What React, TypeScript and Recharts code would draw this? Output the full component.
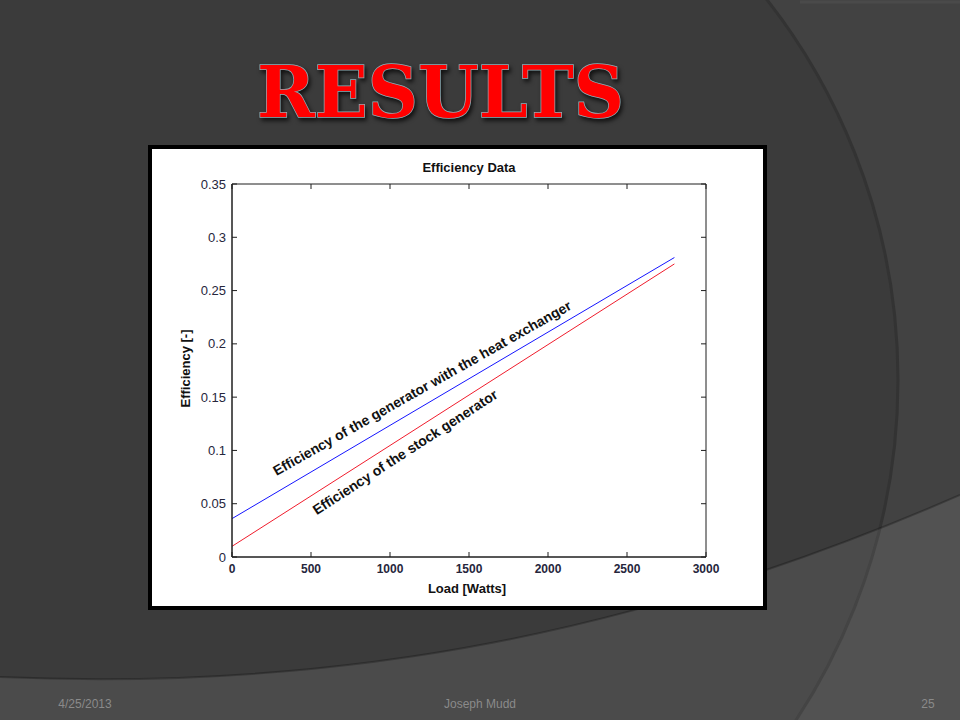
import React from 'react';
import { ComposedChart, Line, Scatter, XAxis, YAxis, Label } from 'recharts';

// values
const loadWatts = [0, 2800];
const effWithExchanger = [0.036, 0.281];
const effStock = [0.01, 0.275];

const xTicks = [0, 500, 1000, 1500, 2000, 2500, 3000];
const yTicks = [0, 0.05, 0.1, 0.15, 0.2, 0.25, 0.3, 0.35];

const noteText = ['Efficiency of the generator with the heat exchanger', 'Efficiency of the stock generator'];
const noteLoad = [1203, 1095];
const noteEff = [0.1586, 0.0985];

const exchangerData = loadWatts.map((load, i) => ({ load, eff: effWithExchanger[i] }));
const stockData = loadWatts.map((load, i) => ({ load, eff: effStock[i] }));
const noteData = noteText.map((text, i) => ({ load: noteLoad[i], eff: noteEff[i], text, idx: i }));

// styles
const NOTE_ANGLES = [-29.5, -33];
const FONT = "'Liberation Sans', Arial, sans-serif";
const AXIS_COLOR = '#1e1e1e';
const TICK_COLOR = '#26263c';

const NoteShape = (props: any) => {
  const { cx, cy, payload } = props;
  if (cx == null || cy == null) return null;
  const angle = NOTE_ANGLES[payload.idx];
  return (
    <text
      x={cx}
      y={cy}
      textAnchor="middle"
      dominantBaseline="central"
      transform={`rotate(${angle} ${cx} ${cy})`}
      fontFamily={FONT}
      fontWeight="bold"
      fontSize={14}
      fill="#111"
    >
      {payload.text}
    </text>
  );
};

// tick marks only, no tick text
const NoTickText = () => <g />;

const XTitle = ({ viewBox }: any) => (
  <text x={viewBox.x + viewBox.width / 2 - 2} y={viewBox.y + 36} textAnchor="middle" fontFamily={FONT} fontWeight="bold" fontSize={13} fill="#111">
    Load [Watts]
  </text>
);

const YTitle = ({ viewBox }: any) => {
  const x = viewBox.x - 2;
  const y = viewBox.y + viewBox.height / 2 - 2;
  return (
    <text x={x} y={y} textAnchor="middle" transform={`rotate(-90 ${x} ${y})`} fontFamily={FONT} fontWeight="bold" fontSize={13} fill="#111">
      Efficiency [-]
    </text>
  );
};

const SlideBackground = () => (
  <svg width={960} height={720} style={{ position: 'absolute', left: 0, top: 0 }}>
    <rect x={0} y={0} width={960} height={720} fill="#424242" />
    <circle cx={281} cy={380} r={617} fill="#3b3b3b" />
    <circle cx={281} cy={380} r={617} fill="none" stroke="#333" strokeWidth={3} />
    <line x1={800} y1={2} x2={960} y2={2} stroke="#4a4a4a" strokeWidth={3} />
    <path d="M0,677 C350,692 650,630 960,495 L960,720 L0,720 Z" fill="rgba(255,255,255,0.085)" />
    <path d="M0,677 C350,692 650,630 960,495" fill="none" stroke="rgba(0,0,0,0.25)" strokeWidth={2} />
  </svg>
);

export default function App() {
  return (
    <div style={{ position: 'absolute', left: 0, top: 0, width: 960, height: 720, overflow: 'hidden', fontFamily: FONT }}>
      <style>{'body{margin:0}'}</style>
      <SlideBackground />

      <svg width={960} height={140} style={{ position: 'absolute', left: 0, top: 0 }}>
        <text
          x={257}
          y={117}
          textLength={367}
          lengthAdjust="spacingAndGlyphs"
          fontFamily="'DejaVu Serif', serif"
          fontWeight="bold"
          fontSize={71}
          fill="#ff0000"
          stroke="#8fb0b8"
          strokeWidth={1.5}
          paintOrder="stroke"
          style={{ filter: 'drop-shadow(2px 3px 2px rgba(0,0,0,0.7))' }}
        >
          RESULTS
        </text>
      </svg>

      <div
        style={{
          position: 'absolute',
          left: 148,
          top: 145,
          width: 619,
          height: 465,
          boxSizing: 'border-box',
          border: '4px solid #000',
          background: '#fff',
        }}
      >
        <div style={{ position: 'absolute', left: 0, top: 11, width: 634, textAlign: 'center', fontSize: 13, fontWeight: 'bold', color: '#111' }}>
          Efficiency Data
        </div>
        <ComposedChart width={611} height={457} margin={{ top: 35, right: 57, bottom: 19, left: 40 }}>
          {/* labelled axes */}
          <XAxis
            xAxisId="bottom"
            dataKey="load"
            type="number"
            domain={[0, 3000]}
            ticks={xTicks}
            allowDataOverflow
            height={30}
            stroke={AXIS_COLOR}
            tickLine={false}
            tickSize={-5}
            tickMargin={12}
            tick={{ fill: TICK_COLOR, fontSize: 12, fontWeight: 'bold', fontFamily: FONT }}
          >
            <Label content={<XTitle />} />
          </XAxis>
          <YAxis
            yAxisId="left"
            type="number"
            domain={[0, 0.35]}
            ticks={yTicks}
            allowDataOverflow
            width={40}
            stroke={AXIS_COLOR}
            tickLine={false}
            tickSize={-5}
            tickMargin={11}
            tick={{ fill: TICK_COLOR, fontSize: 13, fontFamily: FONT }}
          >
            <Label content={<YTitle />} />
          </YAxis>

          {/* box frame with inward ticks */}
          <XAxis xAxisId="bottomIn" orientation="bottom" mirror dataKey="load" type="number" domain={[0, 3000]} ticks={xTicks} allowDataOverflow height={1} stroke={AXIS_COLOR} tickSize={5} tick={NoTickText} />
          <XAxis xAxisId="top" orientation="top" mirror dataKey="load" type="number" domain={[0, 3000]} ticks={xTicks} allowDataOverflow height={1} stroke={AXIS_COLOR} tickSize={5} tick={NoTickText} />
          <YAxis yAxisId="leftIn" orientation="left" mirror type="number" domain={[0, 0.35]} ticks={yTicks} allowDataOverflow width={1} stroke={AXIS_COLOR} tickSize={5} tick={NoTickText} />
          <YAxis yAxisId="right" orientation="right" mirror type="number" domain={[0, 0.35]} ticks={yTicks} allowDataOverflow width={1} stroke={AXIS_COLOR} tickSize={5} tick={NoTickText} />

          <Line
            xAxisId="bottom"
            yAxisId="left"
            data={exchangerData}
            dataKey="eff"
            stroke="#1515ff"
            strokeWidth={1}
            dot={false}
            isAnimationActive={false}
          />
          <Line
            xAxisId="top"
            yAxisId="right"
            data={stockData}
            dataKey="eff"
            stroke="#f01c2c"
            strokeWidth={1}
            dot={false}
            isAnimationActive={false}
          />
          <Scatter
            xAxisId="bottomIn"
            yAxisId="leftIn"
            data={noteData}
            dataKey="eff"
            shape={<NoteShape />}
            isAnimationActive={false}
          />
        </ComposedChart>
      </div>

      <div style={{ position: 'absolute', left: 30, top: 697, width: 110, textAlign: 'center', fontSize: 12, color: '#8a8a8a' }}>4/25/2013</div>
      <div style={{ position: 'absolute', left: 380, top: 697, width: 200, textAlign: 'center', fontSize: 12, color: '#8a8a8a' }}>Joseph Mudd</div>
      <div style={{ position: 'absolute', left: 900, top: 697, width: 56, textAlign: 'center', fontSize: 12, color: '#8a8a8a' }}>25</div>
    </div>
  );
}
